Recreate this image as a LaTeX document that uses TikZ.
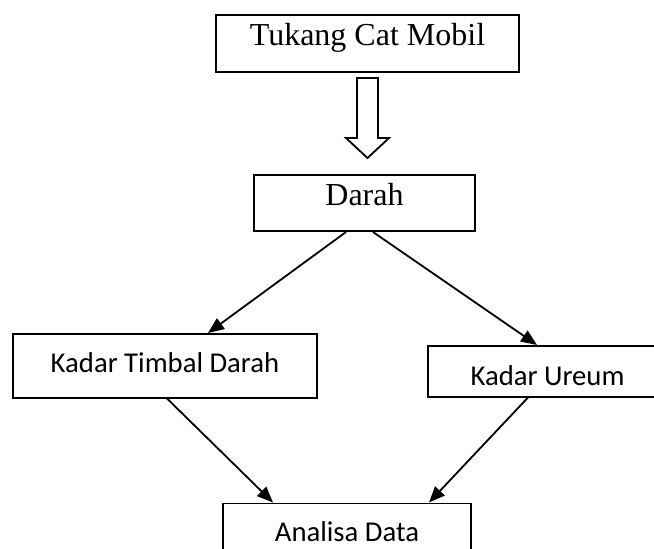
\documentclass[tikz,border=0pt]{standalone}
\usepackage{fontspec}
\setmainfont{Liberation Serif}
\newfontfamily\calibri{Carlito}
\usetikzlibrary{arrows.meta, positioning}
\tikzset{
    base/.style={rectangle, draw=black, fill=white, inner sep=0pt, text centered},
    serifbox/.style={base, line width=2pt, font=\fontsize{32}{38}\selectfont},
    sansbox/.style={base, line width=1.5pt, font=\calibri\fontsize{28.7}{34}\selectfont},
    arrow/.style={-{Triangle[length=16pt, width=13pt]}, line width=1.8pt},
    hollow/.style={draw=black, line width=1.8pt, fill=white, line join=miter}
}
\begin{document}
\begin{tikzpicture}

    \clip (0,0) rectangle (654pt,-549pt);

    % Vertical Flow
    \node (start) [serifbox, minimum width=303pt, text height=30pt, text depth=27pt] at (367.5pt,-43.5pt) {Tukang Cat Mobil};

    \node (darah) [serifbox, below=101pt of start, xshift=-3pt, minimum width=221pt, text height=30pt, text depth=26pt] {Darah};

    % Measurements
    \node (timbal) [sansbox, below=101pt of darah, xshift=-199.5pt, minimum width=304pt, text height=39pt, text depth=25pt] {Kadar Timbal Darah};

    \node (ureum) [sansbox, below=113pt of darah, xshift=183pt, minimum width=239pt, text height=40pt, text depth=11pt] {Kadar Ureum};

    % Result
    \node (analisa) [sansbox, below=104pt of timbal, xshift=182pt, minimum width=248pt, text height=38pt, text depth=30pt] {Analisa Data};

    % Connecting
    \draw [hollow] ([yshift=-5pt]start.south) ++(-10.5pt,0) -- ++(21pt,0) -- ++(0,-60pt) -- ++(11pt,0)
        -- ++(-21.5pt,-20pt) -- ++(-21.5pt,20pt) -- ++(11pt,0) -- cycle;

    \draw [arrow] ([xshift=-18.5pt]darah.south) -- ([xshift=43pt]timbal.north);
    \draw [arrow] ([xshift=8.5pt]darah.south) -- ([xshift=-10.5pt]ureum.north);

    \draw [arrow] ([xshift=2pt]timbal.south) -- ([xshift=-74pt]analisa.north);
    \draw [arrow] ([xshift=-19.5pt]ureum.south) -- ([xshift=82pt]analisa.north);

\end{tikzpicture}
\end{document}
